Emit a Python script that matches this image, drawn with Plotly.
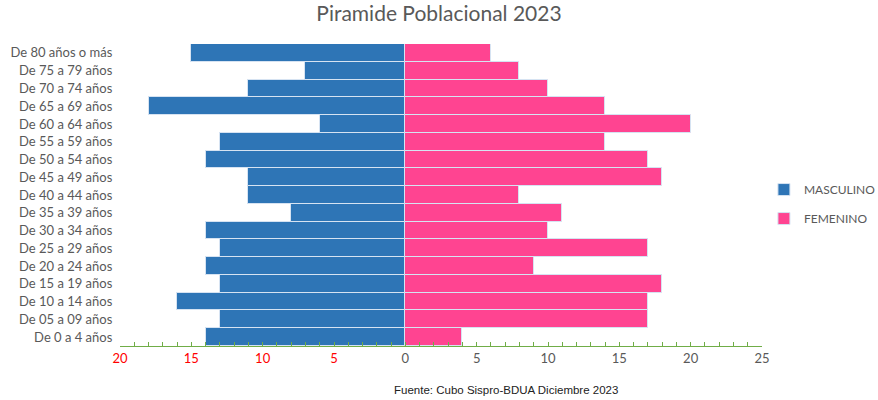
import plotly.graph_objects as go

categories = ["De 0 a 4 años", "De 05 a 09 años", "De 10 a 14 años", "De 15 a 19 años",
              "De 20 a 24 años", "De 25 a 29 años", "De 30 a 34 años", "De 35 a 39 años",
              "De 40 a 44 años", "De 45 a 49 años", "De 50 a 54 años", "De 55 a 59 años",
              "De 60 a 64 años", "De 65 a 69 años", "De 70 a 74 años", "De 75 a 79 años",
              "De 80 años o más"]
masculino = [14, 13, 16, 13, 14, 13, 14, 8, 11, 11, 14, 13, 6, 18, 11, 7, 15]
femenino = [4, 17, 17, 18, 9, 17, 10, 11, 8, 18, 17, 14, 20, 14, 10, 8, 6]
tick_vals = [-20, -15, -10, -5, 0, 5, 10, 15, 20, 25]
tick_text = ["<span style='color:#FF0000'>20</span>", "<span style='color:#FF0000'>15</span>",
             "<span style='color:#FF0000'>10</span>", "<span style='color:#FF0000'>5</span>",
             "0", "5", "10", "15", "20", "25"]

fig = go.Figure()
fig.add_trace(go.Bar(
    y=categories, x=[-v for v in masculino], orientation="h", name="MASCULINO",
    legendgroup="m",
    marker=dict(color="#2E75B6", line=dict(color="#D6E3F2", width=1)),
    customdata=masculino, hovertemplate="%{y}: %{customdata}<extra>MASCULINO</extra>"))
fig.add_trace(go.Bar(
    y=categories, x=femenino, orientation="h", name="FEMENINO",
    legendgroup="f",
    marker=dict(color="#FF4491", line=dict(color="#D6E3F2", width=1)),
    hovertemplate="%{y}: %{x}<extra>FEMENINO</extra>"))

fig.update_layout(
    width=878, height=400,
    barmode="relative", bargap=0,
    plot_bgcolor="white", paper_bgcolor="white",
    font=dict(family="Lato, Open Sans, sans-serif", size=13, color="#595959"),
    title=dict(text="Piramide Poblacional 2023", x=0.5, xanchor="center", y=0.967,
               yanchor="middle", font=dict(size=21, color="#595959")),
    margin=dict(l=120, r=116, t=44, b=54, autoexpand=False),
    legend=dict(x=1.003, y=0.47, xanchor="left", yanchor="middle",
                traceorder="grouped", font=dict(size=12, color="#595959"),
                itemwidth=30, tracegroupgap=10),
    showlegend=True,
    xaxis=dict(range=[-20, 25], tickmode="array", tickvals=tick_vals, ticktext=tick_text,
               showgrid=False, zeroline=False, showline=True, linecolor="#70AD47",
               linewidth=1, ticks="inside", ticklen=4, tickcolor="#70AD47",
               tickfont=dict(size=13, color="#595959"), automargin=False,
               minor=dict(dtick=1, tick0=0, ticks="inside", ticklen=4, tickcolor="#70AD47")),
    yaxis=dict(showgrid=False, zeroline=False, showline=False, ticks="", automargin=False,
               tickfont=dict(size=13, color="#595959"), ticksuffix="  "),
    annotations=[dict(text="Fuente: Cubo Sispro-BDUA Diciembre 2023", xref="paper", yref="paper",
                      x=0.601, y=-0.146, xanchor="center", yanchor="middle", showarrow=False,
                      font=dict(family="Liberation Sans, Arial, sans-serif", size=11.5,
                                color="#222222"))]
)

fig.write_html("out.html", config={"displayModeBar": False})

# remove default page margin so the figure sits at the window's top-left corner
with open("out.html", "r", encoding="utf-8") as f:
    html = f.read()
html = html.replace("<body>", "<body style=\"margin:0;padding:0;overflow:hidden\">", 1)
with open("out.html", "w", encoding="utf-8") as f:
    f.write(html)
